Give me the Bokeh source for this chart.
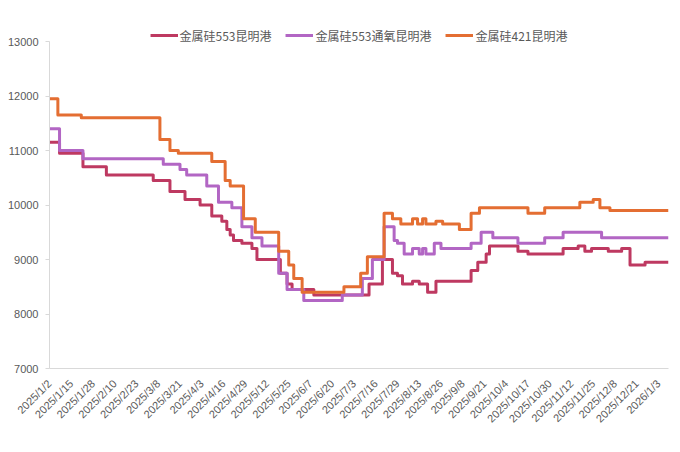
import math
from bokeh.plotting import figure
from bokeh.models import FixedTicker, Range1d, Legend, LegendItem
from bokeh.embed import file_html
from bokeh.resources import INLINE

# x positions are day indices counted from 2025/1/2; tick labels every 13 positions
tick_labels = ["2025/1/2", "2025/1/15", "2025/1/28", "2025/2/10", "2025/2/23", "2025/3/8",
               "2025/3/21", "2025/4/3", "2025/4/16", "2025/4/29", "2025/5/12", "2025/5/25",
               "2025/6/7", "2025/6/20", "2025/7/3", "2025/7/16", "2025/7/29", "2025/8/13",
               "2025/8/26", "2025/9/8", "2025/9/21", "2025/10/4", "2025/10/17", "2025/10/30",
               "2025/11/12", "2025/11/25", "2025/12/8", "2025/12/21", "2026/1/3"]
tick_step = 13
last_day = 370

# series: day index where price changes, and the new price
s553_days = [0, 6, 20, 34, 62, 72, 81, 90, 97, 103, 106, 108, 110, 115, 121, 124, 138, 142, 145,
             158, 191, 199, 205, 208, 211, 217, 221, 226, 231, 252, 256, 261, 263, 280, 286, 307,
             316, 320, 324, 334, 342, 347, 356]
s553_vals = [11150, 10950, 10700, 10550, 10450, 10250, 10100, 10000, 9800, 9700, 9550, 9450, 9350,
             9300, 9200, 9000, 8750, 8550, 8450, 8350, 8550, 9000, 8750, 8700, 8550, 8600, 8550,
             8400, 8600, 8800, 8950, 9100, 9250, 9150, 9100, 9200, 9250, 9150, 9200, 9150, 9200,
             8900, 8950]

s553o_days = [0, 6, 20, 68, 78, 82, 94, 101, 109, 115, 121, 127, 137, 142, 152, 175, 187, 193,
              200, 206, 208, 212, 217, 221, 223, 225, 230, 234, 252, 258, 265, 280, 296, 307, 330]
s553o_vals = [11400, 11000, 10850, 10750, 10650, 10550, 10350, 10050, 9950, 9600, 9400, 9250,
              8750, 8450, 8250, 8350, 8650, 9000, 9600, 9350, 9300, 9100, 9200, 9100, 9200, 9100,
              9300, 9200, 9300, 9500, 9400, 9300, 9400, 9500, 9400]

s421_days = [0, 5, 19, 66, 72, 77, 97, 105, 108, 116, 123, 137, 143, 146, 151, 176, 186, 190,
             200, 205, 210, 217, 220, 223, 225, 231, 235, 245, 252, 257, 286, 296, 317, 325, 329, 335]
s421_vals = [11950, 11650, 11600, 11200, 11000, 10950, 10800, 10450, 10350, 9750, 9500, 9150,
             8900, 8650, 8400, 8500, 8750, 9050, 9850, 9750, 9650, 9750, 9650, 9750, 9650, 9700,
             9650, 9550, 9850, 9950, 9850, 9950, 10050, 10100, 9950, 9900]

series = [
    ("金属硅553昆明港", s553_days, s553_vals, "#BE3961"),
    ("金属硅553通氧昆明港", s553o_days, s553o_vals, "#B266C4"),
    ("金属硅421昆明港", s421_days, s421_vals, "#E46E32"),
]

p = figure(output_backend="svg", toolbar_location=None,
           frame_width=619, frame_height=343,
           min_border_left=49, min_border_right=10, min_border_top=25, min_border_bottom=80,
           x_range=Range1d(0, last_day), y_range=Range1d(7000, 13294))
p.outline_line_color = None
p.grid.grid_line_color = None
p.background_fill_color = "white"
p.border_fill_color = "white"

items = []
for name, days, vals, col in series:
    xs = list(days) + [last_day]
    ys = list(vals) + [vals[-1]]
    r = p.step(xs, ys, mode="after", line_width=3, line_color=col, line_join="round")
    items.append(LegendItem(label=name, renderers=[r]))

legend = Legend(items=items, orientation="horizontal", location="top_center",
                background_fill_alpha=0, border_line_color=None,
                padding=0, margin=0, spacing=14, glyph_width=28, glyph_height=20,
                label_height=20, label_standoff=2,
                label_text_font="Noto Sans CJK SC", label_text_font_size="12px",
                label_text_color="#595959")
p.add_layout(legend, "center")

# y axis
p.yaxis.ticker = FixedTicker(ticks=[7000, 8000, 9000, 10000, 11000, 12000, 13000])
p.yaxis.bounds = (7000, 13000)
p.yaxis.axis_line_color = "#D9D9D9"
p.yaxis.major_tick_line_color = "#D9D9D9"
p.yaxis.major_tick_out = 4
p.yaxis.major_tick_in = 0
p.yaxis.minor_tick_line_color = None
p.yaxis.major_label_standoff = 7
p.yaxis.major_label_text_font = "Liberation Sans"
p.yaxis.major_label_text_font_size = "11px"
p.yaxis.major_label_text_color = "#595959"

# x axis
ticks = [i * tick_step for i in range(len(tick_labels))]
p.xaxis.ticker = FixedTicker(ticks=ticks)
p.xaxis.major_label_overrides = {t: lab for t, lab in zip(ticks, tick_labels)}
p.xaxis.axis_line_color = "#D9D9D9"
p.xaxis.major_tick_line_color = None
p.xaxis.minor_tick_line_color = None
p.xaxis.major_label_orientation = math.pi / 4
p.xaxis.major_label_standoff = 7
p.xaxis.major_label_text_font = "Liberation Sans"
p.xaxis.major_label_text_font_size = "11px"
p.xaxis.major_label_text_color = "#595959"

open("out.html", "w").write(file_html(p, INLINE))
